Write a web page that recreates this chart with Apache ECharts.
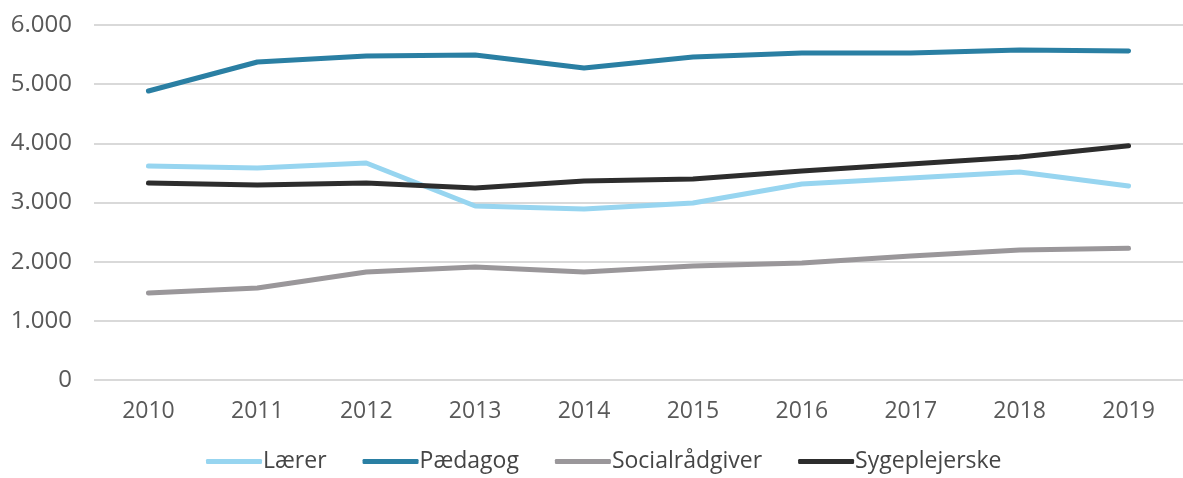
<!DOCTYPE html>
<html><head><meta charset="utf-8">
<script src="https://cdn.jsdelivr.net/npm/echarts@6/dist/echarts.min.js"></script>
<style>html,body{margin:0;padding:0;background:#fff}#c{width:1183px;height:478px}</style>
</head><body><div id="c"></div>
<script>
const years = ['2010','2011','2012','2013','2014','2015','2016','2017','2018','2019'];
const laerer = [3617,3583,3667,2941,2890,2991,3312,3414,3517,3280];
const paedagog = [4884,5374,5476,5493,5273,5459,5526,5526,5577,5561];
const socialraadgiver = [1470,1555,1825,1910,1825,1927,1977,2096,2197,2227];
const sygeplejerske = [3329,3296,3329,3245,3363,3397,3532,3650,3769,3960];
const names = ['Lærer','Pædagog','Socialrådgiver','Sygeplejerske'];
const colors = ['#97D5F0','#2A7FA3','#9A979A','#2D2D2D'];
const values = [laerer, paedagog, socialraadgiver, sygeplejerske];

const chart = echarts.init(document.getElementById('c'));
const font = '"Open Sans", sans-serif';
chart.setOption({
  animation:false,
  textStyle:{fontFamily:font},
  grid:{left:94,right:0,top:25,bottom:98},
  legend:{
    top:445, left:201, itemWidth:56, itemHeight:5, itemGap:36,
    icon:'roundRect',
    textStyle:{fontSize:23,color:'#454545',fontFamily:font,padding:[0,0,0,-4]},
    data:names
  },
  xAxis:{type:'category',data:years,boundaryGap:true,
    axisLine:{show:false},axisTick:{show:false},
    axisLabel:{fontSize:23,color:'#595959',margin:20,fontFamily:font}},
  yAxis:{type:'value',min:0,max:6000,interval:1000,
    axisLine:{show:false},axisTick:{show:false},
    splitLine:{lineStyle:{color:'#D9D9D9',width:2}},
    axisLabel:{fontSize:24,color:'#595959',margin:22,fontFamily:font,
      formatter:v=>v===0?'0':(v/1000)+'.000'}},
  series: names.map((n,i)=>({
    name:n,type:'line',data:values[i],symbol:'none',
    lineStyle:{color:colors[i],width:5,cap:'round',join:'round'},
    itemStyle:{color:colors[i]}
  }))
});
</script></body></html>
